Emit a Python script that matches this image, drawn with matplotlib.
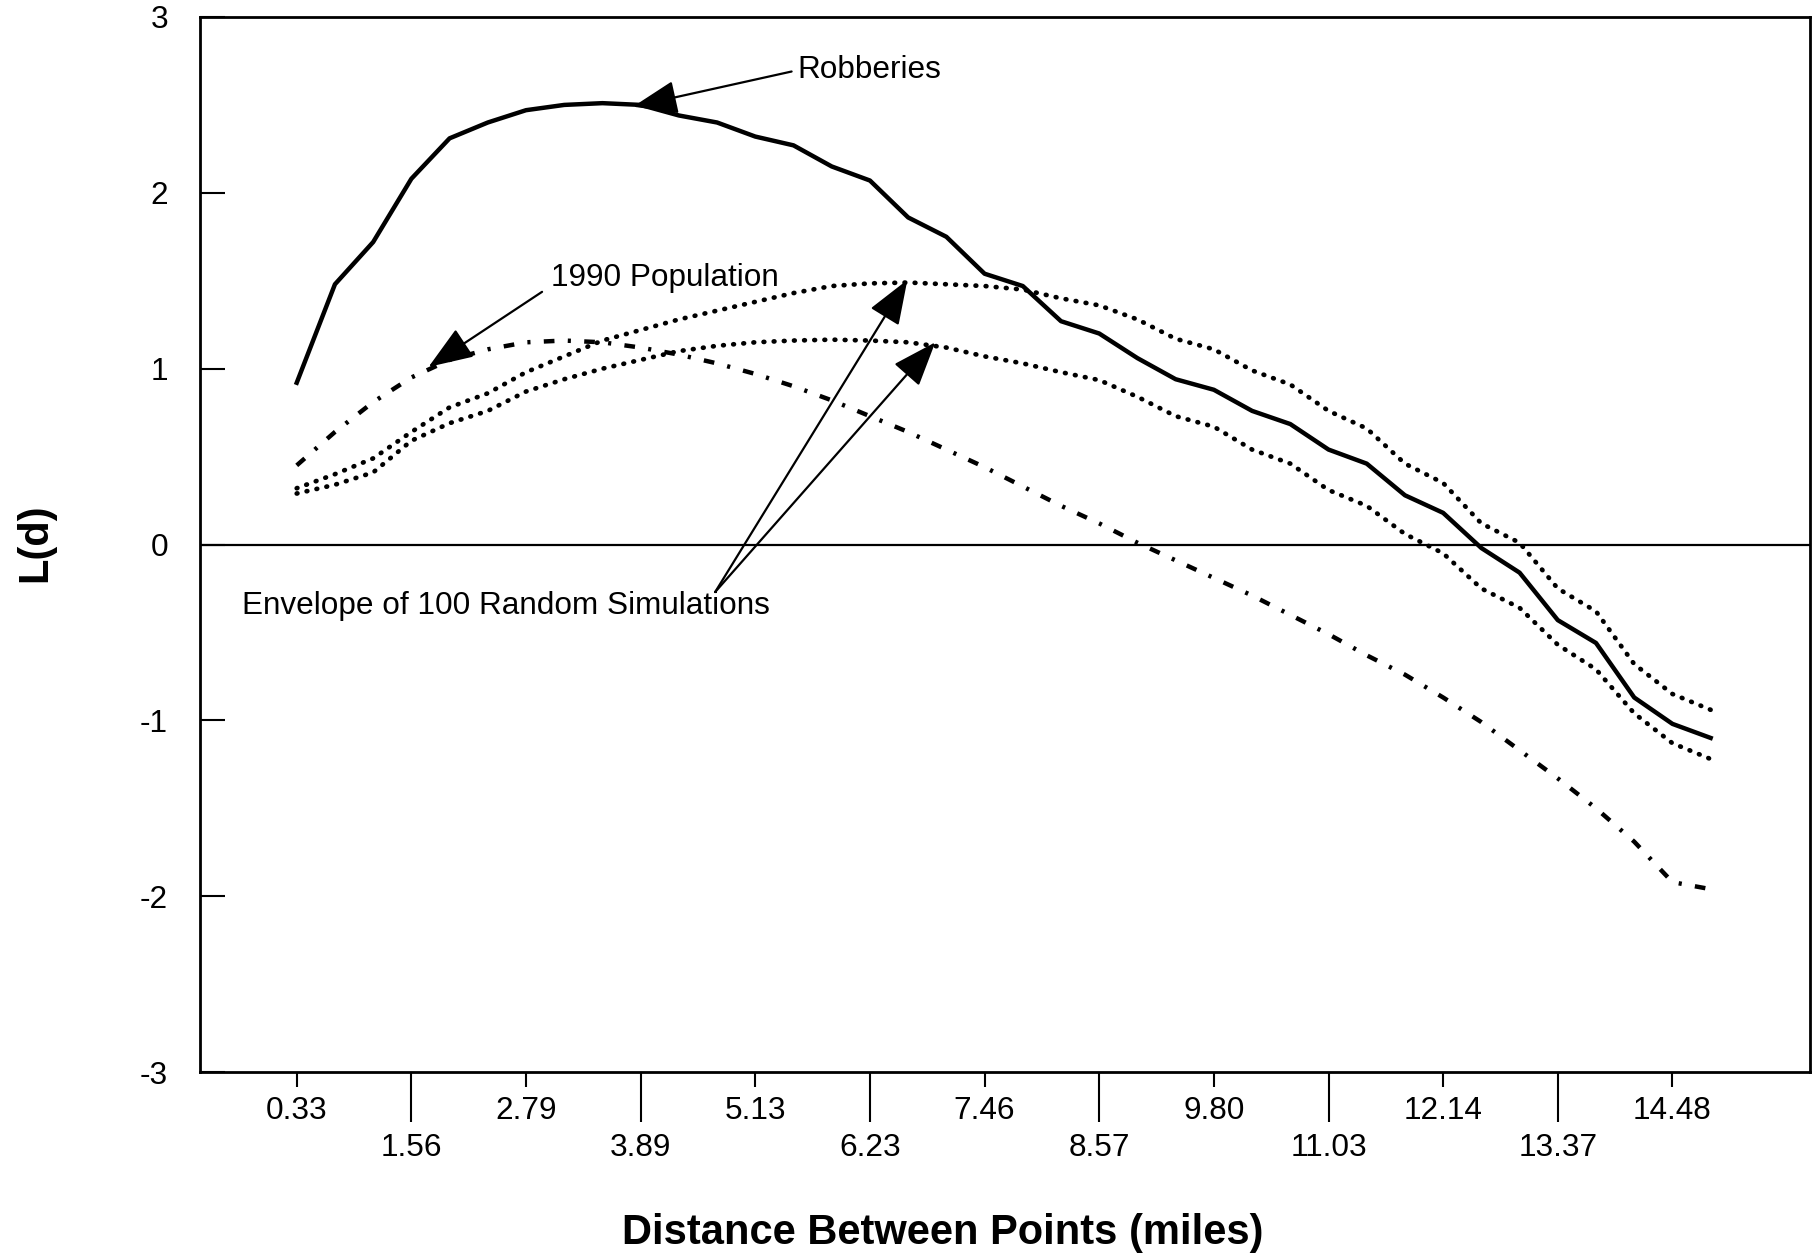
import numpy as np
import matplotlib
matplotlib.use("Agg")
import matplotlib.pyplot as plt

plt.rcParams['font.family'] = ['Liberation Sans', 'DejaVu Sans']

# Distance steps (one value every lag step); labels shown at every third step
distance_labels = ['0.33', '1.56', '2.79', '3.89', '5.13', '6.23', '7.46',
                   '8.57', '9.80', '11.03', '12.14', '13.37', '14.48']

# L(d) for the robbery locations
robberies = [0.92, 1.48, 1.72, 2.08, 2.31, 2.40, 2.47, 2.50, 2.51, 2.50,
             2.44, 2.40, 2.32, 2.27, 2.15, 2.07, 1.86, 1.75, 1.54, 1.47,
             1.27, 1.20, 1.06, 0.94, 0.88, 0.76, 0.685, 0.54, 0.46, 0.28,
             0.18, -0.02, -0.16, -0.43, -0.56, -0.87, -1.02, -1.10]

# L(d) for the 1990 population distribution
population_1990 = [0.45, 0.64, 0.81, 0.95, 1.05, 1.11, 1.15, 1.16, 1.15, 1.12,
                   1.08, 1.03, 0.97, 0.90, 0.82, 0.73, 0.64, 0.54, 0.44, 0.33,
                   0.22, 0.12, 0.01, -0.09, -0.19, -0.29, -0.40, -0.51, -0.63, -0.74,
                   -0.87, -1.01, -1.17, -1.33, -1.50, -1.69, -1.92, -1.96]

# Envelope of 100 random simulations
envelope_upper = [0.32, 0.40, 0.49, 0.64, 0.78, 0.86, 0.98, 1.07, 1.16, 1.22,
                  1.28, 1.33, 1.38, 1.43, 1.47, 1.485, 1.49, 1.48, 1.47, 1.45,
                  1.40, 1.36, 1.28, 1.17, 1.11, 0.99, 0.91, 0.76, 0.66, 0.46,
                  0.35, 0.12, 0.01, -0.25, -0.38, -0.68, -0.85, -0.94]
envelope_lower = [0.29, 0.34, 0.41, 0.59, 0.69, 0.76, 0.87, 0.94, 1.00, 1.05,
                  1.10, 1.13, 1.15, 1.16, 1.165, 1.16, 1.15, 1.12, 1.07, 1.03,
                  0.98, 0.935, 0.84, 0.73, 0.67, 0.54, 0.46, 0.31, 0.22, 0.06,
                  -0.05, -0.25, -0.36, -0.57, -0.71, -0.96, -1.13, -1.22]

steps = np.arange(len(robberies))
label_steps = np.arange(0, len(robberies), 3)[:len(distance_labels)]

fig = plt.figure(figsize=(18.12, 12.59), dpi=100)
ax = fig.add_axes([0.1104, 0.1485, 0.8885, 0.838])

ax.plot(steps, robberies, color='black', lw=3.2, solid_joinstyle='round')
ax.plot(steps, envelope_upper, color='black', lw=3.4,
        linestyle=(0, (0.15, 2.0)), dash_capstyle='round')
ax.plot(steps, envelope_lower, color='black', lw=3.4,
        linestyle=(0, (0.15, 2.0)), dash_capstyle='round')
ax.plot(steps, population_1990, color='black', lw=3.2,
        linestyle=(0, (2.4, 3.0, 0.7, 3.0)))
ax.axhline(0, color='black', lw=1.6)

ax.set_xlim(-2.53, 39.6)
ax.set_ylim(-3, 3)

# y ticks point into the plot area
ax.set_yticks([-3, -2, -1, 0, 1, 2, 3])
ax.set_yticklabels(['-3', '-2', '-1', '0', '1', '2', '3'])
ax.tick_params(axis='y', direction='in', length=18, width=1.5, pad=23,
               labelsize=22.7)

# x ticks: short ticks carry the upper label row, long ticks the lower row
upper_idx = label_steps[0::2]
lower_idx = label_steps[1::2]
ax.set_xticks(lower_idx)
ax.set_xticklabels(distance_labels[1::2])
ax.set_xticks(upper_idx, minor=True)
ax.set_xticklabels(distance_labels[0::2], minor=True)
ax.tick_params(axis='x', which='major', direction='out', length=36, width=1.5,
               pad=8, labelsize=22.7)
ax.tick_params(axis='x', which='minor', direction='out', length=11, width=1.5,
               pad=6, labelsize=22.7)

for s in ax.spines.values():
    s.set_linewidth(2.0)

ax.set_xlabel('Distance Between Points (miles)', fontsize=30, fontweight='bold')
ax.xaxis.label.set_va('center')
ax.xaxis.set_label_coords(0.4615, -0.1526)
ax.set_ylabel('L(d)', fontsize=30, fontweight='bold')
ax.yaxis.label.set_va('center')
ax.yaxis.set_label_coords(-0.1025, 0.5014)

arrow_kw = dict(arrowstyle='-|>,head_length=2.8,head_width=1.05',
                mutation_scale=10, lw=1.6, color='black',
                shrinkA=0, shrinkB=0)

ax.text(13.1, 2.70, 'Robberies', fontsize=22.7, ha='left', va='center')
ax.annotate('', xy=(8.8, 2.49), xytext=(12.95, 2.69), arrowprops=arrow_kw)

ax.text(6.65, 1.517, '1990 Population', fontsize=22.7, ha='left', va='center')
ax.annotate('', xy=(3.45, 1.01), xytext=(6.42, 1.437), arrowprops=arrow_kw)

ax.text(-1.44, -0.348, 'Envelope of 100 Random Simulations', fontsize=22.7,
        ha='left', va='center')
ax.annotate('', xy=(15.98, 1.505), xytext=(10.95, -0.27), arrowprops=arrow_kw)
ax.annotate('', xy=(16.71, 1.15), xytext=(10.95, -0.27), arrowprops=arrow_kw)

fig.savefig('out.png', dpi=100)
